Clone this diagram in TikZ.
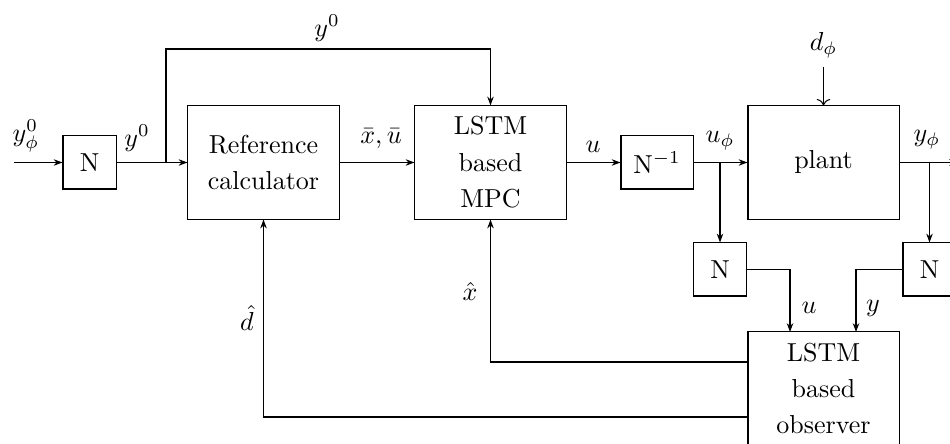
\documentclass[tikz,border=0pt]{standalone}
\usetikzlibrary{arrows.meta,calc}
\begin{document}
\begin{tikzpicture}[x=0.3846pt,y=-0.3846pt,
  blk/.style={draw,line width=0.4pt,minimum width=58.1pt,minimum height=43.5pt,align=center,inner sep=0pt},
  sblk/.style={draw,line width=0.4pt,minimum width=20.4pt,minimum height=20.4pt,inner sep=0pt},
  sig/.style={-{Stealth[length=3.4pt,width=2.5pt]},line width=0.4pt},
  lbl/.style={inner sep=0pt}]
\useasboundingbox (0,0) rectangle (950,444);

% blocks
\node[sblk] (nin) at (89.5,162.5) {N};
\node[blk] (ref) at (263.5,162.5) {Reference\\[2pt]calculator};
\node[blk] (mpc) at (490.5,162.5) {LSTM\\[2pt]based\\[2pt]MPC};
\node[sblk,minimum width=27.7pt] (ninv) at (657,162.5) {N$^{-1}$};
\node[blk] (plant) at (823.5,162.5) {plant};
\node[sblk] (nu) at (720,269.5) {N};
\node[sblk] (ny) at (929.5,269.5) {N};
\node[blk] (obs) at (823.5,388.5) {LSTM\\[2pt]based\\[2pt]observer};

% free ends and branch points
\coordinate (src) at (14,162.5);
\coordinate (b0) at (166,162.5);
\coordinate (bu) at (720,162.5);
\coordinate (by) at (929.5,162.5);
\coordinate (out) at (958,162.5);
\coordinate (dsrc) at (823.5,67);

% forward path
\draw[sig] (src) -- (nin.west);
\draw[sig] (nin.east) -- (ref.west);
\draw[sig] (b0) -- (b0 |- 0,49) -- (mpc.north |- 0,49) -- (mpc.north);
\draw[sig] (ref.east) -- (mpc.west);
\draw[sig] (mpc.east) -- (ninv.west);
\draw[sig] (ninv.east) -- (plant.west);
\draw[sig] (plant.east) -- (out);
\draw[->,line width=0.4pt] (dsrc) -- (plant.north);

% normalisation of measured signals
\draw[sig] (bu) -- (nu.north);
\draw[sig] (by) -- (ny.north);
\draw[sig] (nu.east) -- (790,269.5) -- (790,332);
\draw[sig] (ny.west) -- (856,269.5) -- (856,332);

% observer feedback
\draw[sig] (obs.west |- 0,362) -- (mpc.south |- 0,362) -- (mpc.south);
\draw[sig] (obs.west |- 0,417) -- (ref.south |- 0,417) -- (ref.south);

% signal labels
\node[lbl] (l1) at (26,136) {$y^0_\phi$};
\node[lbl] (l2) at (137,138) {$y^0$};
\node[lbl] (l3) at (327,28) {$y^0$};
\node[lbl] (l4) at (381,139) {$\bar{x},\bar{u}$};
\node[lbl] (l5) at (593,147) {$u$};
\node[lbl] (l6) at (720,141) {$u_\phi$};
\node[lbl] (l7) at (927,140) {$y_\phi$};
\node[lbl] (l8) at (823.5,45) {$d_\phi$};
\node[lbl] (l9) at (809,308) {$u$};
\node[lbl] (l10) at (873,308) {$y$};
\node[lbl] (l11) at (470,291) {$\hat{x}$};
\node[lbl] (l12) at (247,318) {$\hat{d}$};
\end{tikzpicture}
\end{document}
